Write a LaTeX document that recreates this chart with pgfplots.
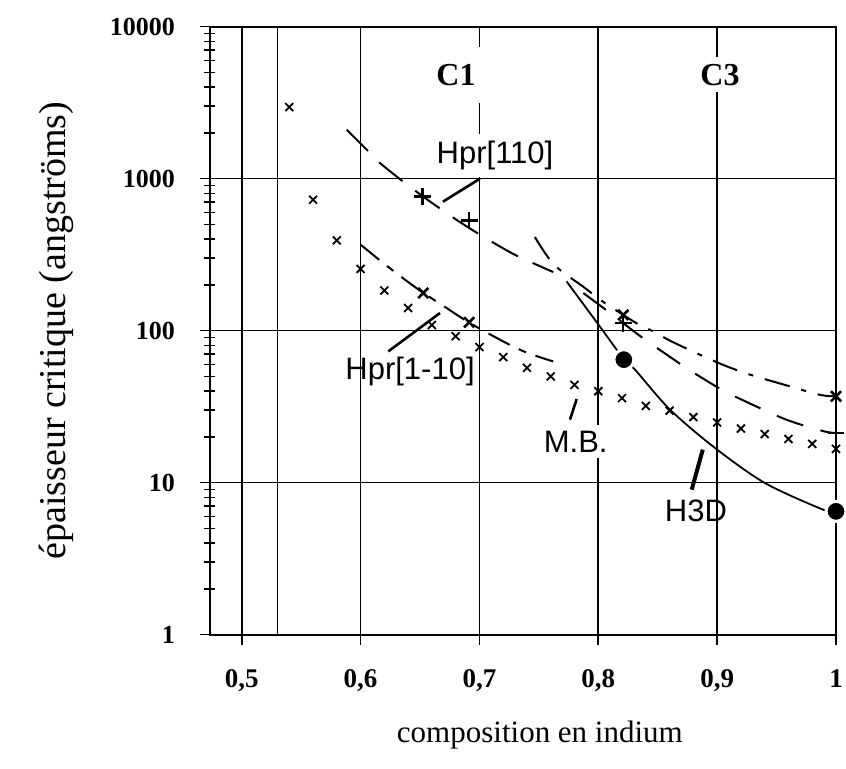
\documentclass[border=0pt]{standalone}
\usepackage{pgfplots}
\pgfplotsset{compat=1.18}
\usepackage{fontspec}
\setmainfont{Liberation Serif}
\newfontfamily\lsans{Liberation Sans}

\begin{document}
\begin{tikzpicture}
\begin{axis}[
  scale only axis, width=313pt, height=304pt,
  xmin=0.4733, xmax=1.0,
  ymode=log, ymin=1, ymax=10000,
  xtick={0.5,0.6,0.7,0.8,0.9,1.0},
  xticklabels={{0,5},{0,6},{0,7},{0,8},{0,9},1},
  ytick={1,10,100,1000,10000},
  yticklabels={1,10,100,1000,10000},
  minor ytick={2,3,4,5,6,7,8,9,20,30,40,50,60,70,80,90,200,300,400,500,600,700,800,900,2000,3000,4000,5000,6000,7000,8000,9000},
  xtick pos=bottom, ytick pos=left,
  tick align=center,
  major tick length=10pt, minor tick length=5.5pt,
  every tick/.style={black, line width=0.8pt},
  grid=major,
  grid style={black, line width=0.8pt},
  axis line style={line width=1.1pt},
  extra x ticks={0.53}, extra x tick labels={},
  extra x tick style={grid=major, major tick length=0pt},
  xticklabel style={font=\bfseries\fontsize{13.5}{15}\selectfont, yshift=-9pt},
  yticklabel style={font=\bfseries\fontsize{13}{15}\selectfont, xshift=-9pt},
  xlabel={composition en indium},
  ylabel={épaisseur critique (angströms)},
  xlabel style={font=\fontsize{15.5}{18}\selectfont, at={(axis description cs:0.527,-0.165)}, anchor=center},
  ylabel style={font=\fontsize{19}{22}\selectfont, at={(axis description cs:-0.245,0.5)}, anchor=center},
  clip=false,
]
% M.B.
\addplot[only marks, mark=x, mark size=2.8pt, mark options={line width=0.9pt}] coordinates {
 (0.54,2960) (0.56,727) (0.58,393) (0.60,255) (0.62,184) (0.64,141) (0.66,109)
 (0.68,92) (0.70,78) (0.72,67) (0.74,57) (0.76,50) (0.78,44) (0.80,40) (0.82,36)
 (0.84,32) (0.86,29.8) (0.88,27) (0.90,24.9) (0.92,22.7) (0.94,20.9) (0.96,19.4)
 (0.98,18) (1.00,16.7)};
% Hpr[1-10] C1
\addplot[line width=1pt, dash pattern=on 12pt off 5pt on 4pt off 5pt, smooth] coordinates {
 (0.6,368) (0.62,275) (0.64,209) (0.653,177) (0.67,145) (0.691,113.5) (0.72,85) (0.74,71.6) (0.762,62.8)};
\addplot[only marks, mark=x, mark size=3.6pt, mark options={line width=1.3pt}] coordinates {
 (0.6527,177) (0.6914,113.5)};
% Hpr[110] C1
\addplot[line width=1pt, dash pattern=on 15pt off 8pt, smooth] coordinates {
 (0.5883,2100) (0.6065,1514) (0.6163,1268) (0.6374,936) (0.6584,708) (0.6809,535)
 (0.7005,428) (0.7243,333) (0.7375,296) (0.7621,243)};
\addplot[only marks, mark=+, mark size=4.2pt, mark options={line width=1.2pt}] coordinates {
 (0.6522,765) (0.6914,530)};
% C3 dash-dot (X)
\addplot[line width=1pt, dash pattern=on 13pt off 6pt on 2.5pt off 6pt, smooth] coordinates {
 (0.7467,413) (0.7627,272) (0.7888,191) (0.8014,160) (0.821,127) (0.8322,112)
 (0.8462,99) (0.8603,86) (0.8855,69.5) (0.9066,58.9) (0.9276,51.4) (0.9543,44.6)
 (0.9862,37.9) (1.0,37)};
\addplot[only marks, mark=x, mark size=3.6pt, mark options={line width=1.3pt}] coordinates {
 (0.821,127) (1.0,37)};
% C3 long dash (+)
\addplot[line width=1pt, dash pattern=on 14pt off 9pt, smooth] coordinates {
 (0.7874,177) (0.8098,131) (0.821,112) (0.8379,89) (0.8617,66.1) (0.8771,54.8)
 (0.9038,40.9) (0.9206,35.2) (0.9514,27.3) (0.9683,24.4) (0.9907,21.7) (1.0,21.2)};
\addplot[only marks, mark=+, mark size=4.2pt, mark options={line width=1.2pt}] coordinates {
 (0.821,112) (1.0,21.2)};
% H3D
\addplot[line width=0.9pt, smooth] coordinates {
 (0.7733,211) (0.80,110) (0.8215,65) (0.8309,55.4) (0.8604,30.2) (0.8983,16.9)
 (0.9402,9.95) (0.9893,6.64) (1.0,6.48)};
\addplot[only marks, mark=*, mark size=5pt, mark options={fill=black, draw=white, line width=1.5pt}] coordinates {
 (0.8215,64.5) (1.0,6.48)};

% labels
\node[font=\bfseries\fontsize{16}{18}\selectfont, fill=white, minimum width=26pt, minimum height=28pt] at (axis cs:0.6803,4833) {C1};
\node[font=\bfseries\fontsize{16}{18}\selectfont, fill=white] at (axis cs:0.9024,4833) {C3};
\node[font=\lsans\fontsize{15.5}{18}\selectfont, fill=white, inner xsep=2pt, inner ysep=3.5pt] at (axis cs:0.7131,1417) {Hpr[110]};
\draw[line width=1.3pt] (axis cs:0.6693,706) -- (axis cs:0.7004,1000);
\node[font=\lsans\fontsize{15.5}{18}\selectfont] at (axis cs:0.6416,54.2) {Hpr[1-10]};
\draw[line width=1.3pt] (axis cs:0.6233,73.1) -- (axis cs:0.6668,130.7);
\node[font=\lsans\fontsize{15.5}{18}\selectfont, fill=white, inner sep=3pt] at (axis cs:0.781,18.7) {M.B.};
\draw[line width=1.3pt] (axis cs:0.7762,26) -- (axis cs:0.7818,35.5);
\node[font=\lsans\fontsize{15.5}{18}\selectfont] at (axis cs:0.8822,6.54) {H3D};
\draw[line width=2pt] (axis cs:0.8786,9.0) -- (axis cs:0.8879,16.5);
\end{axis}
\pgfresetboundingbox
\path[use as bounding box] ([shift={(-105pt,-67pt)}]current axis.south west) rectangle ([shift={(5pt,13.35pt)}]current axis.north east);
\end{tikzpicture}
\end{document}
